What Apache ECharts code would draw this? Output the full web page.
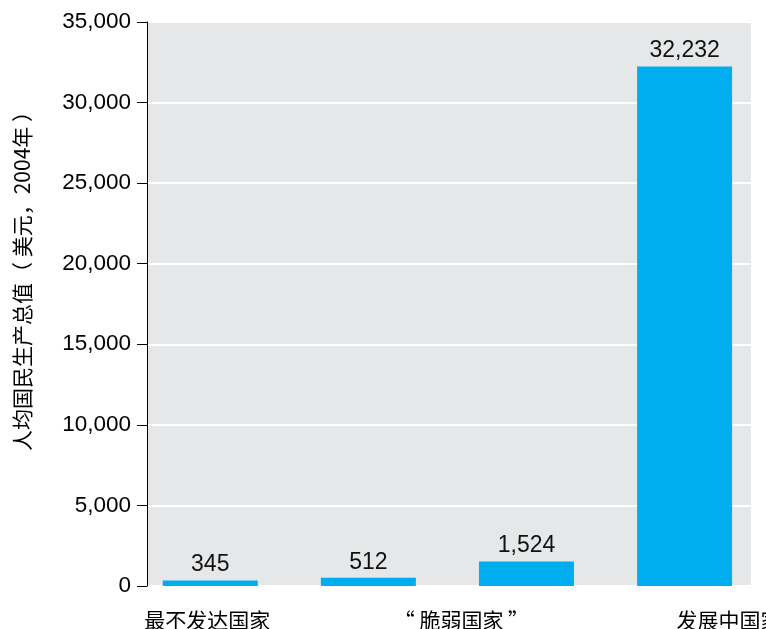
<!DOCTYPE html>
<html>
<head>
<meta charset="utf-8">
<script src="https://cdn.jsdelivr.net/npm/echarts@6/dist/echarts.min.js"></script>
<style>
html,body{margin:0;padding:0;background:#fff;}
#main{width:766px;height:629px;}
</style>
</head>
<body>
<div id="main"></div>
<script>
// Data
var barIndex = [0, 1, 2, 3];
var values = [345, 512, 1524, 32232];
var groupLabels = ['最不发达国家', '\u201c 脆弱国家 \u201d', '发展中国家'];
var yAxisTitle = '人均国民生产总值（ 美元，2004年 ）';
var yMin = 0, yMax = 35000, yInterval = 5000;

var chart = echarts.init(document.getElementById('main'), null, {renderer: 'canvas'});
var numFont = '"Liberation Sans", Arial, sans-serif';
var cjkFont = '"Noto Sans CJK SC", "Liberation Sans", sans-serif';

var option = {
  animation: false,
  backgroundColor: '#ffffff',
  grid: {left: 147, right: 15, top: 22, bottom: 43, show: true, backgroundColor: '#e6e7e8', borderWidth: 0},
  xAxis: {
    type: 'value', min: -0.4, max: 3.42,
    axisLine: {show: false}, axisTick: {show: false}, axisLabel: {show: false}, splitLine: {show: false}
  },
  yAxis: {
    type: 'value', min: yMin, max: yMax, interval: yInterval,
    axisLine: {show: true, onZero: false, lineStyle: {color: '#000', width: 1}},
    axisTick: {show: true, length: 10, lineStyle: {color: '#000', width: 1}},
    axisLabel: {
      margin: 16, fontSize: 22.5, color: '#000', fontFamily: numFont,
      formatter: function (v) { return v.toLocaleString('en-US'); }
    },
    splitLine: {show: true, lineStyle: {color: '#ffffff', width: 2}}
  },
  series: [{
    type: 'bar',
    barWidth: 95,
    data: barIndex.map(function (x, i) { return [x, values[i]]; }),
    itemStyle: {color: '#00aeef'},
    label: {
      show: true, position: 'top', distance: 4,
      fontSize: 23, color: '#111', fontFamily: numFont,
      formatter: function (p) { return p.value[1].toLocaleString('en-US'); }
    }
  }]
};
chart.setOption(option);

function px(i) { return chart.convertToPixel({xAxisIndex: 0}, i); }
var labelY = 620;
chart.setOption({
  graphic: [
    {type: 'text', x: px(0) - 3, y: labelY,
      style: {text: groupLabels[0], fontSize: 21, fontFamily: cjkFont, fill: '#000', textAlign: 'center', textVerticalAlign: 'middle'}},
    {type: 'text', x: (px(1) + px(2)) / 2 + 14, y: labelY,
      style: {text: groupLabels[1], fontSize: 21, fontFamily: cjkFont, fill: '#000', textAlign: 'center', textVerticalAlign: 'middle'}},
    {type: 'text', x: px(3) - 8, y: labelY,
      style: {text: groupLabels[2], fontSize: 21, fontFamily: cjkFont, fill: '#000', textAlign: 'left', textVerticalAlign: 'middle'}},
    {type: 'text', x: 22, y: 276, rotation: Math.PI / 2,
      style: {text: yAxisTitle, fontSize: 21, fontFamily: cjkFont, fill: '#000', textAlign: 'center', textVerticalAlign: 'middle'}}
  ]
});
</script>
</body>
</html>
